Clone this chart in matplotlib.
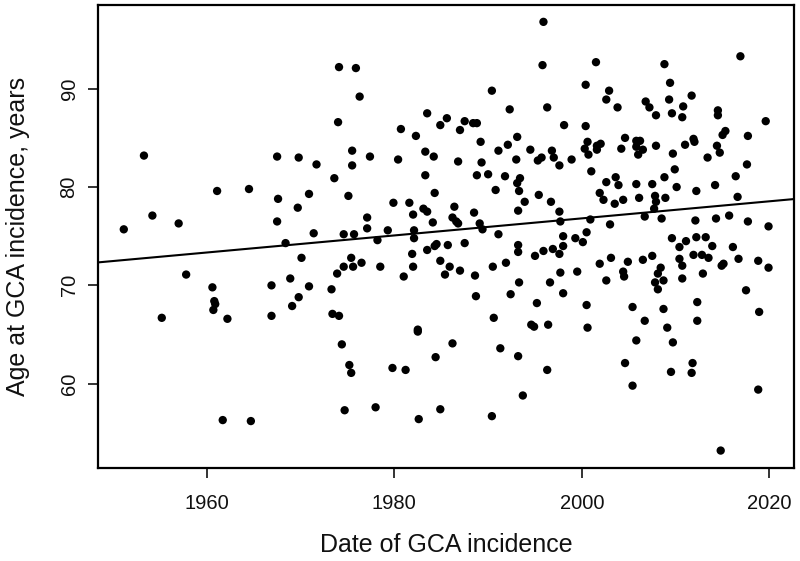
import numpy as np
import matplotlib
matplotlib.use("Agg")
import matplotlib.pyplot as plt

plt.rcParams['font.family'] = ['Liberation Sans', 'DejaVu Sans']

# Year of GCA incidence and age at incidence
year = [
    1953.3, 1954.2, 1951.15, 1957.0, 1957.8, 1955.2,
    1967.5, 1969.8, 1971.7, 1961.1, 1964.5, 1967.6, 1970.9, 1969.7, 1967.5, 1971.4, 1968.4,
    1970.1, 1960.6, 1968.9, 1966.9, 1970.9, 1960.8, 1960.9, 1960.7, 1969.8, 1969.1, 1962.2,
    1966.9, 1961.7, 1964.7,
    1974.1, 1975.9, 1976.3, 1983.5, 1974.0, 1980.7, 1982.3, 1983.3, 1975.5, 1975.5, 1977.4,
    1980.4, 1973.6, 1983.3, 1975.1, 1979.9, 1981.6, 1983.1, 1983.5, 1982.0, 1977.1, 1977.1,
    1979.3, 1982.1, 1974.6, 1975.7, 1978.2, 1982.1, 1984.1,
    1981.9, 1983.5, 1975.4, 1974.6, 1975.6, 1976.5, 1973.9, 1978.5, 1981.0, 1982.0, 1973.3,
    1973.4, 1974.1, 1974.4, 1982.5, 1982.5, 1975.2, 1975.4, 1979.8, 1981.2, 1974.7, 1978.0,
    1982.6,
    1995.9, 1995.8, 1990.4, 1992.3, 1985.6, 1984.9, 1987.5, 1988.4, 1988.8, 1987.0, 1989.2,
    1993.1, 1992.1, 1991.1, 1994.5, 1984.2, 1986.8, 1989.3, 1993.0, 1995.3, 1988.8, 1990.0,
    1991.8, 1993.4, 1993.1, 1984.3, 1990.8, 1993.3, 1995.4, 1986.4, 1993.9, 1993.2, 1988.5,
    1986.2, 1986.6, 1986.8, 1989.1, 1989.4, 1991.1,
    1984.3, 1984.5, 1985.7, 1987.5, 1993.2, 1993.2,
    1995.0, 1984.9, 1985.9, 1985.4, 1987.0, 1988.6, 1990.5, 1991.9, 1993.3, 1988.7, 1992.4,
    1995.2, 1990.6, 1994.6, 1994.9, 1986.2, 1984.4, 1991.3, 1993.2, 1993.7, 1984.9, 1990.4,
    2001.5, 2000.4, 2002.9, 2002.6, 1996.3, 2003.8, 2006.8, 2007.2, 2007.9, 1998.1, 2000.4,
    1995.7, 1996.8, 1997.0, 1997.6, 1998.9, 2000.6, 2000.3, 2000.7, 2001.6, 2002.0, 2001.6,
    2001.0, 2004.6, 2004.2, 2005.8, 2006.2, 2005.8, 2006.5, 2006.0, 2007.9, 2002.6, 2003.6,
    2003.9, 2005.8, 2007.5, 1996.7, 2001.9, 2002.3, 2003.5, 2004.4, 2006.1, 2007.8, 2007.9,
    2007.7, 1997.6, 1997.7, 2000.9, 2003.0, 2006.7, 1998.0, 1999.3, 2000.1, 2000.5,
    1995.9, 1996.9, 1997.6, 1998.0, 1997.7, 1999.5, 1996.6, 1998.0, 1996.4, 2000.5, 2000.6,
    1996.3, 2001.9, 2003.1, 2002.6, 2004.9, 2004.4, 2004.5, 2006.5, 2007.5, 2005.4, 2006.7,
    2005.8, 2004.6, 2005.4,
    2016.9, 2008.8, 2009.4, 2009.3, 2011.7, 2009.6, 2010.8, 2010.7, 2014.5, 2014.5, 2019.6,
    2009.7, 2011.0, 2011.9, 2012.0, 2013.4, 2014.4, 2014.7, 2015.0, 2015.3, 2017.7, 2017.6,
    2008.8, 2009.9, 2010.1, 2012.2, 2014.2, 2016.4, 2016.6, 2008.9, 2008.5, 2012.1, 2014.3,
    2015.7, 2017.7, 2019.9, 2009.6, 2011.1, 2012.2, 2013.2, 2010.4, 2013.9, 2016.1,
    2010.4, 2010.7, 2011.9, 2012.8, 2013.5, 2016.7, 2018.8, 2019.9, 2014.9, 2015.1, 2008.4,
    2008.1, 2008.7, 2007.8, 2008.1, 2010.7, 2012.9, 2017.5, 2008.7, 2012.3, 2018.9, 2012.3,
    2009.1, 2009.7, 2009.5, 2011.8, 2011.7, 2018.8, 2014.8,
]
age = [
    83.2, 77.1, 75.7, 76.3, 71.1, 66.7,
    83.1, 83.0, 82.3, 79.6, 79.8, 78.8, 79.3, 77.9, 76.5, 75.3, 74.3,
    72.8, 69.8, 70.7, 70.0, 69.9, 68.4, 68.1, 67.5, 68.8, 67.9, 66.6,
    66.9, 56.3, 56.2,
    92.2, 92.1, 89.2, 87.5, 86.6, 85.9, 85.2, 83.6, 83.7, 82.2, 83.1,
    82.8, 80.9, 81.2, 79.1, 78.4, 78.4, 77.8, 77.5, 77.2, 76.9, 75.8,
    75.6, 75.6, 75.2, 75.2, 74.6, 74.8, 76.4,
    73.2, 73.6, 72.8, 71.9, 71.9, 72.3, 71.2, 71.9, 70.9, 71.9, 69.6,
    67.1, 66.9, 64.0, 65.5, 65.3, 61.9, 61.1, 61.6, 61.4, 57.3, 57.6,
    56.4,
    96.8, 92.4, 89.8, 87.9, 87.0, 86.3, 86.7, 86.5, 86.5, 85.8, 84.6,
    85.1, 84.3, 83.7, 83.8, 83.1, 82.6, 82.5, 82.8, 82.7, 81.2, 81.3,
    81.1, 80.9, 80.4, 79.4, 79.7, 79.6, 79.2, 78.0, 78.5, 77.6, 77.4,
    76.9, 76.5, 76.3, 76.3, 75.7, 75.2,
    74.0, 74.2, 74.1, 74.3, 74.1, 73.4,
    73.0, 72.5, 71.9, 71.1, 71.5, 71.0, 71.9, 72.3, 70.3, 68.9, 69.1,
    68.2, 66.7, 66.0, 65.8, 64.1, 62.7, 63.6, 62.8, 58.8, 57.4, 56.7,
    92.7, 90.4, 89.8, 88.9, 88.1, 88.1, 88.7, 88.1, 87.3, 86.3, 86.2,
    83.0, 83.7, 83.0, 82.2, 82.8, 84.6, 83.9, 83.3, 84.2, 84.4, 83.8,
    81.6, 85.0, 83.9, 84.7, 84.7, 84.1, 83.8, 83.3, 84.2, 80.5, 81.0,
    80.2, 80.3, 80.3, 78.5, 79.4, 78.7, 78.3, 78.7, 78.9, 79.1, 78.5,
    77.8, 77.5, 76.5, 76.7, 76.2, 77.0, 75.0, 74.8, 74.4, 75.4,
    73.5, 73.7, 73.2, 74.0, 71.3, 71.4, 70.3, 69.2, 66.0, 68.0, 65.7,
    61.4, 72.2, 72.8, 70.5, 72.4, 71.4, 70.9, 72.6, 73.0, 67.8, 66.4,
    64.4, 62.1, 59.8,
    93.3, 92.5, 90.6, 88.9, 89.3, 87.5, 88.2, 87.1, 87.8, 87.3, 86.7,
    83.4, 84.3, 84.9, 84.6, 83.0, 84.2, 83.5, 85.3, 85.7, 85.2, 82.3,
    81.0, 81.8, 80.0, 79.6, 80.2, 81.1, 79.0, 78.9, 76.8, 76.6, 76.8,
    77.1, 76.5, 76.0, 74.8, 74.5, 74.9, 74.9, 73.9, 74.0, 73.9,
    72.7, 72.0, 73.1, 73.1, 72.8, 72.7, 72.5, 71.8, 72.0, 72.2, 71.8,
    71.2, 70.5, 70.3, 69.6, 70.7, 71.2, 69.5, 67.6, 68.3, 67.3, 66.4,
    65.7, 64.2, 61.2, 62.1, 61.1, 59.4, 53.2,
]

x = np.array(year)
y = np.array(age)

fig = plt.figure(figsize=(8, 5.61), dpi=100)
ax = fig.add_axes([0.1225, 0.1663, 0.8704, 0.8253])

ax.scatter(x, y, s=36, color='black', edgecolors='none', zorder=3)

# least squares line, like abline(lm(age ~ year))
slope, intercept = np.polyfit(x, y, 1)
xr = x.max() - x.min()
yr = y.max() - y.min()
xlim = (x.min() - 0.04 * xr, x.max() + 0.04 * xr)
ylim = (y.min() - 0.04 * yr, y.max() + 0.04 * yr)
xx = np.array(xlim)
ax.plot(xx, intercept + slope * xx, color='black', lw=1.5, zorder=2)

ax.set_xlim(xlim)
ax.set_ylim(ylim)
ax.set_xticks([1960, 1980, 2000, 2020])
ax.set_yticks([60, 70, 80, 90])
ax.tick_params(direction='out', length=7, width=1.2, labelsize=14.5, colors='#111111')
ax.tick_params(axis='x', pad=12)
ax.tick_params(axis='y', pad=7)
for lab in ax.get_yticklabels():
    lab.set_rotation(90)
    lab.set_va('center')
for sp in ax.spines.values():
    sp.set_linewidth(1.6)

ax.set_xlabel('Date of GCA incidence', fontsize=18, color='#111111', va='center')
ax.set_ylabel('Age at GCA incidence, years', fontsize=18, color='#111111', va='center')
ax.xaxis.set_label_coords(0.5, -0.168)
ax.yaxis.set_label_coords(-0.115, 0.5)

fig.savefig('out.png', dpi=100)
